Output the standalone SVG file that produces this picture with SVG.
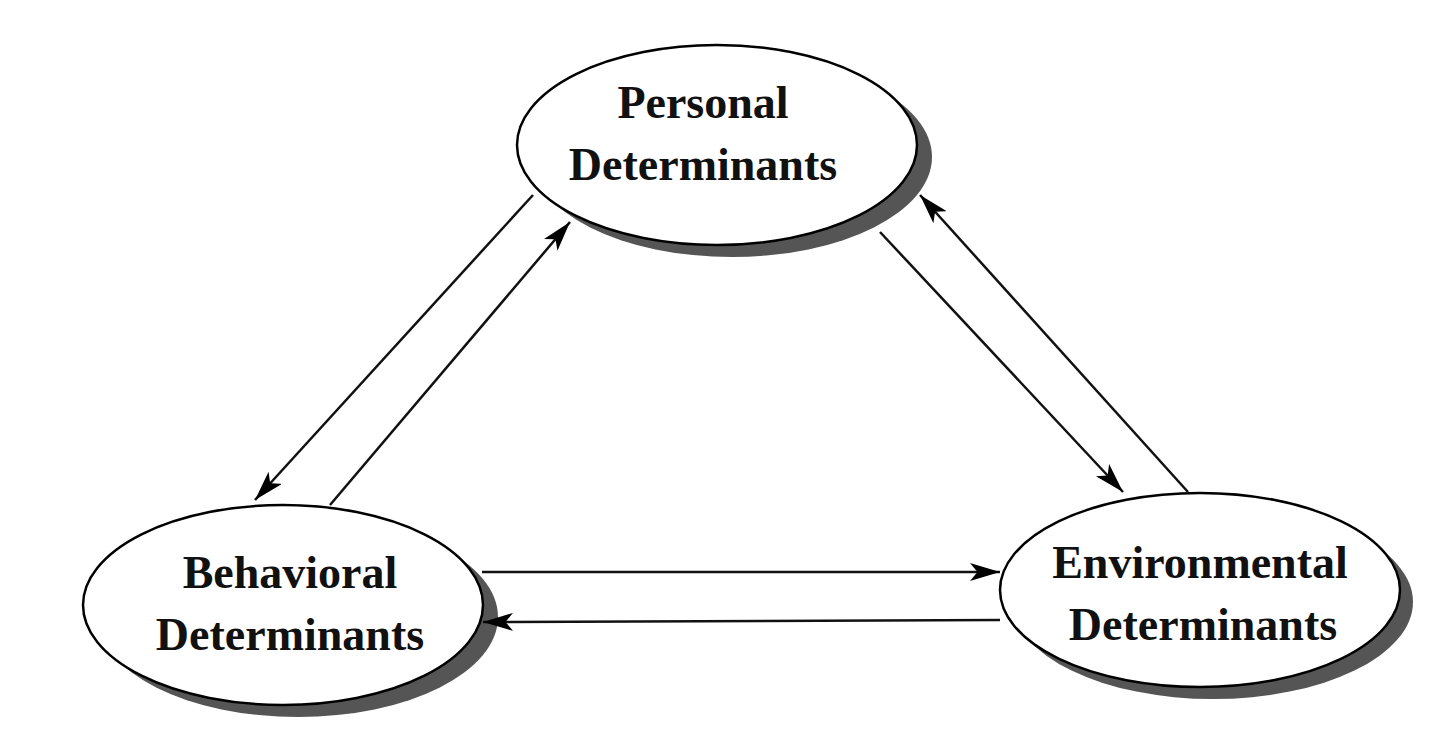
<svg xmlns="http://www.w3.org/2000/svg" width="1440" height="737" viewBox="0 0 1440 737">
<style>
.sh{fill:#555;}
.el{fill:#fff;stroke:#000;stroke-width:2.5;}
text{font-family:"Liberation Serif",serif;font-weight:bold;font-size:46px;text-anchor:middle;fill:#111;}
.c line{stroke:#111;stroke-width:2.5;marker-end:url(#ah);}
</style>
<defs>
<marker id="ah" viewBox="0 0 10 10" refX="10" refY="5" markerWidth="30" markerHeight="18" markerUnits="userSpaceOnUse" orient="auto" preserveAspectRatio="none"><path d="M0,0 L10,5 L0,10 L2.5,5 Z" fill="#000"/></marker>
</defs>
<rect width="1440" height="737" fill="#fff"/>
<g id="personal">
<ellipse class="sh" cx="732" cy="157" rx="200" ry="100"/>
<ellipse class="el" cx="717" cy="145" rx="200" ry="100"/>
<text x="703" y="118">Personal</text>
<text x="703" y="180">Determinants</text>
</g>
<g id="behavioral">
<ellipse class="sh" cx="298" cy="617" rx="200" ry="100"/>
<ellipse class="el" cx="283" cy="605" rx="200" ry="100"/>
<text x="290" y="588">Behavioral</text>
<text x="290" y="650">Determinants</text>
</g>
<g id="environmental">
<ellipse class="sh" cx="1213" cy="602" rx="200" ry="97"/>
<ellipse class="el" cx="1200" cy="590" rx="200" ry="97"/>
<text x="1200" y="578">Environmental</text>
<text x="1203" y="640">Determinants</text>
</g>
<g class="c" id="connectors">
<line x1="533" y1="195" x2="255" y2="500"/>
<line x1="330" y1="505" x2="570" y2="222"/>
<line x1="880" y1="232" x2="1123" y2="492"/>
<line x1="1188" y1="492" x2="920" y2="195"/>
<line x1="482" y1="572" x2="1000" y2="572"/>
<line x1="1000" y1="620" x2="483" y2="622"/>
</g>
</svg>
